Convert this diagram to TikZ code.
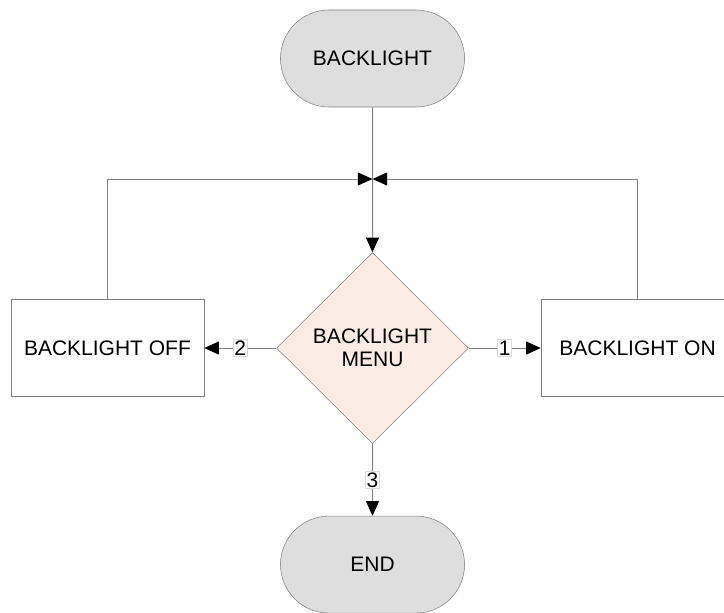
\documentclass[tikz,border=0pt]{standalone}
\usepackage{fontspec}
\setmainfont{Liberation Sans}
\usepackage{tikz}
\usetikzlibrary{shapes.geometric, shapes.misc, positioning, arrows.meta}

\definecolor{termgray}{RGB}{222,222,222}
\definecolor{menupeach}{RGB}{251,237,229}
\definecolor{linegray}{RGB}{128,128,128}

\begin{document}
\begin{tikzpicture}[x=0.75pt,y=-0.75pt,node distance=54pt,
    >={Triangle[length=11pt,width=9.75pt,color=black]},
    every node/.style={font=\fontsize{15.75}{17.5}\selectfont},
    term/.style={rounded rectangle,draw=linegray,fill=termgray,minimum width=144.75pt,minimum height=72.75pt},
    box/.style={rectangle,draw=linegray,minimum width=144.75pt,minimum height=72.75pt},
    menu/.style={diamond,draw=linegray,fill=menupeach,minimum width=144pt,minimum height=143.25pt,inner sep=0pt,align=center},
    lbl/.style={draw=black!15,fill=white,inner sep=1pt},
    link/.style={draw=linegray,line width=0.75pt}]
    \clip (0,0) rectangle (724,613);

    \node[term] (start) at (372.5,58.5) {BACKLIGHT};
    \node[menu] (menu) [below=108.75pt of start] {BACKLIGHT\\MENU};
    \node[box] (off) [left=of menu] {BACKLIGHT OFF};
    \node[box] (on) [right=of menu] {BACKLIGHT ON};
    \node[term] (end) [below=of menu] {END};
    \coordinate (join) at (372.5,179);

    % main line and the two loops back
    \draw[link,->] (start) -- (menu);
    \draw[link,->] (off.north) |- (join);
    \draw[link,->] (on.north) |- (join);

    % menu choices
    \draw[link,->] (menu) -- node[lbl] {1} (on);
    \draw[link,->] (menu) -- node[lbl] {2} (off);
    \draw[link,->] (menu) -- node[lbl] {3} (end);
\end{tikzpicture}
\end{document}
